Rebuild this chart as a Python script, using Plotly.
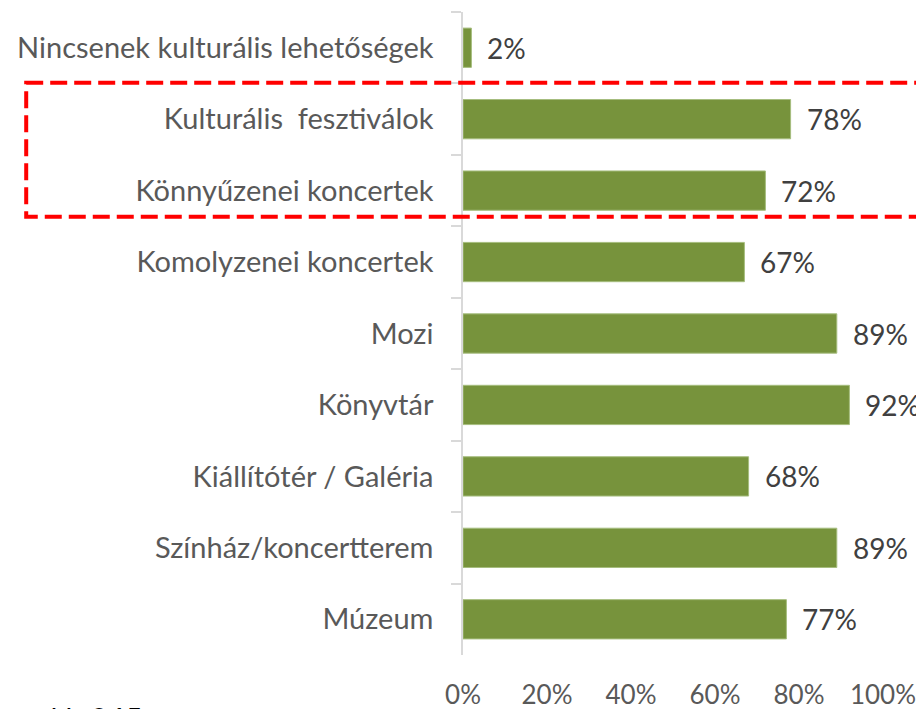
import plotly.graph_objects as go

categories = [
    "Nincsenek kulturális lehetőségek",
    "Kulturális  fesztiválok",
    "Könnyűzenei koncertek",
    "Komolyzenei koncertek",
    "Mozi",
    "Könyvtár",
    "Kiállítótér / Galéria",
    "Színház/koncertterem",
    "Múzeum",
]
values = [0.02, 0.78, 0.72, 0.67, 0.89, 0.92, 0.68, 0.89, 0.77]
x_ticks = [0, 0.2, 0.4, 0.6, 0.8, 1.0]
x_tick_labels = ["0%", "20%", "40%", "60%", "80%", "100%"]
note_text = "N=265"

FONT = "Lato, 'Open Sans', sans-serif"

fig = go.Figure()
fig.add_trace(go.Bar(
    y=categories,
    x=values,
    orientation="h",
    marker=dict(color="#77933C", line=dict(color="#A6BD7E", width=1)),
    hoverinfo="skip",
))

for c, v in zip(categories, values):
    fig.add_annotation(
        x=v, y=c, xref="x", yref="y",
        text=f"{round(v*100)}%",
        showarrow=False, xanchor="left", yanchor="middle",
        xshift=14,
        font=dict(family=FONT, size=28, color="#404040"),
    )

# highlighted group (dashed red frame)
fig.add_shape(
    type="rect", xref="paper", yref="y",
    x0=-1.04, x1=1.3, y0=0.49, y1=2.365,
    line=dict(color="#FF0000", width=4, dash="17px,7px"),
    fillcolor="rgba(0,0,0,0)",
    layer="above",
)

fig.add_annotation(
    x=-0.988, y=-0.067, xref="paper", yref="paper",
    text=note_text, showarrow=False, xanchor="left", yanchor="top",
    font=dict(family=FONT, size=30, color="#000000"),
)

fig.update_layout(
    width=924, height=709,
    margin=dict(l=455, r=49, t=4, b=62, autoexpand=False),
    paper_bgcolor="white", plot_bgcolor="white",
    bargap=0.45,
    showlegend=False,
    font=dict(family=FONT, color="#595959"),
    xaxis=dict(
        range=[0, 1], tickvals=x_ticks, ticktext=x_tick_labels,
        showgrid=False, zeroline=False, showline=False,
        tickfont=dict(family=FONT, size=26, color="#595959"),
        ticks="", ticklabelstandoff=22, automargin=False,
    ),
    yaxis=dict(
        autorange="reversed",
        showline=True, linecolor="#D9D9D9", linewidth=1.5,
        ticks="outside", tickson="boundaries", ticklen=10,
        tickcolor="#D9D9D9", tickwidth=1.5,
        showgrid=False, zeroline=False,
        tickfont=dict(family=FONT, size=29, color="#595959"),
        ticklabelstandoff=22, automargin=False,
    ),
)

fig.write_html("out.html")
